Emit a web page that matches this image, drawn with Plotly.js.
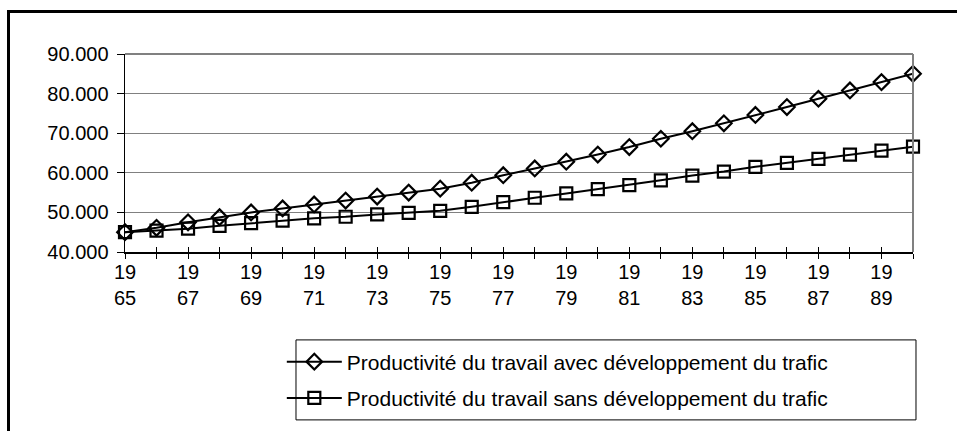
<!DOCTYPE html>
<html>
<head>
<meta charset="utf-8">
<script src="https://cdn.plot.ly/plotly-3.0.1.min.js"></script>
<style>
  html, body { margin: 0; padding: 0; background: #fff; overflow: hidden; }
  #frame { position: absolute; left: 7px; top: 10px; width: 960px; height: 430px;
           border-left: 3px solid #000; border-top: 3px solid #000; pointer-events: none; z-index: 5; }
  #chart { position: absolute; left: 0; top: 0; width: 957px; height: 431px; }
</style>
</head>
<body>
<div id="chart"></div>
<div id="frame"></div>
<script>
const years = [1965,1966,1967,1968,1969,1970,1971,1972,1973,1974,1975,1976,1977,1978,1979,1980,1981,1982,1983,1984,1985,1986,1987,1988,1989,1990];
const avecTrafic = [45000,46100,47500,48800,50000,51000,52000,53000,54000,55000,56000,57500,59400,61100,62800,64600,66500,68600,70500,72500,74600,76600,78700,80800,82900,85000];
const sansTrafic = [45000,45400,45900,46600,47300,47900,48500,48900,49500,49900,50400,51400,52600,53700,54800,55900,56900,58100,59300,60300,61500,62500,63500,64600,65600,66600];
const seriesNames = ["Productivité du travail avec développement du trafic",
                     "Productivité du travail sans développement du trafic"];
const tickText = years.map(y => (y % 2 === 1) ? String(y).slice(0,2) + "<br>" + String(y).slice(2) : "");

const font = {family: "Liberation Sans, Arial, sans-serif", size: 20, color: "#000"};
const legendFont = {family: "Liberation Sans, Arial, sans-serif", size: 21, color: "#000"};

const traces = [
  {x: years, y: avecTrafic, name: seriesNames[0], type: "scatter", mode: "lines+markers",
   line: {color: "#000", width: 2}, marker: {symbol: "diamond-open", size: 12, color: "#000", line: {width: 2.2, color: "#000"}},
   cliponaxis: false, legendgroup: "a"},
  {x: years, y: sansTrafic, name: seriesNames[1], type: "scatter", mode: "lines+markers",
   line: {color: "#000", width: 2}, marker: {symbol: "square-open", size: 12, color: "#000", line: {width: 2.2, color: "#000"}},
   cliponaxis: false, legendgroup: "b"},
  {x: [years[0]], y: [avecTrafic[0]], xaxis: "x2", type: "scatter", mode: "markers",
   marker: {opacity: 0}, showlegend: false, hoverinfo: "skip"}
];

const layout = {
  width: 957, height: 431,
  margin: {l: 125, r: 44, t: 54, b: 179},
  paper_bgcolor: "#fff", plot_bgcolor: "#fff",
  separators: ",.",
  font: font,
  showlegend: true,
  xaxis: {range: [1965, 1990], tickmode: "array", tickvals: years, ticktext: tickText,
          ticks: "outside", ticklen: 5, tickcolor: "#000", tickwidth: 1,
          showline: true, linecolor: "#000", linewidth: 1.5, showgrid: false, zeroline: false,
          tickfont: font, tickangle: 0, ticklabelstandoff: -4},
  xaxis2: {overlaying: "x", anchor: "y", side: "bottom", matches: "x", range: [1965, 1990],
           tickmode: "array", tickvals: years, ticks: "inside", ticklen: 5, tickcolor: "#000",
           showticklabels: false, showline: false, showgrid: false, zeroline: false},
  yaxis: {range: [40000, 90000], dtick: 10000, tick0: 40000, tickformat: ",",
          ticks: "outside", ticklen: 7, tickcolor: "#000", tickwidth: 1,
          showline: true, linecolor: "#000", linewidth: 1.5,
          showgrid: true, gridcolor: "#808080", gridwidth: 1, zeroline: false,
          tickfont: font, ticklabelstandoff: 4},
  shapes: [
    {type: "line", xref: "paper", yref: "paper", x0: 0, x1: 1, y0: 1, y1: 1, line: {color: "#808080", width: 2}},
    {type: "line", xref: "paper", yref: "paper", x0: 1, x1: 1, y0: 0, y1: 1, line: {color: "#808080", width: 2}},
    {type: "rect", xref: "paper", yref: "paper", x0: 0.217, x1: 1.0038, y0: -0.848, y1: -0.444,
     line: {color: "#000", width: 1}, fillcolor: "rgba(0,0,0,0)", layer: "below"}
  ],
  legend: {x: 0.199, y: -0.452, xanchor: "left", yanchor: "top",
           bgcolor: "rgba(0,0,0,0)", borderwidth: 0,
           font: legendFont, traceorder: "grouped", tracegroupgap: 6, itemwidth: 55}
};

Plotly.newPlot("chart", traces, layout, {displayModeBar: false, staticPlot: true});
</script>
</body>
</html>
